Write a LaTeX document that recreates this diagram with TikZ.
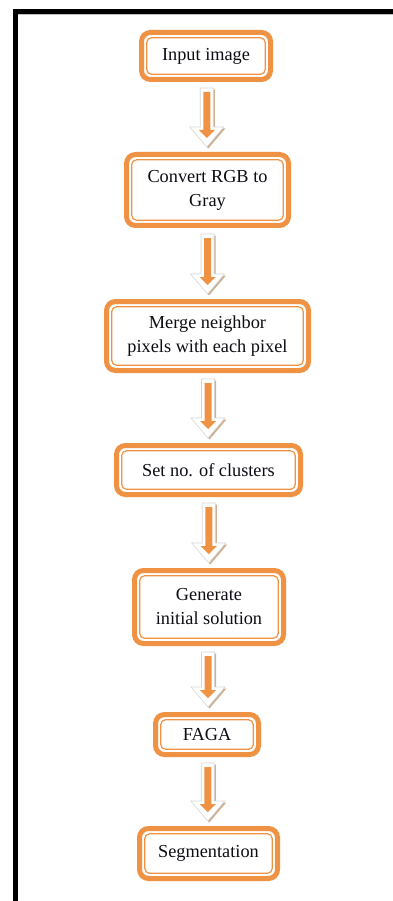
\documentclass[tikz,border=0pt]{standalone}
\usepackage{fontspec}
\setmainfont{Liberation Serif}
\usetikzlibrary{calc}
\definecolor{borange}{RGB}{240,146,68}
\definecolor{btext}{RGB}{12,12,20}
\definecolor{bshadow}{RGB}{205,175,145}
\definecolor{bedge}{RGB}{215,215,215}
\tikzset{
  flowbox/.style={draw=borange, line width=5pt, rounded corners=9pt, fill=white,
    align=center, text=btext, inner sep=0pt,
    font=\fontsize{18.3}{24}\selectfont,
    path picture={\draw[borange, line width=1.2pt, rounded corners=5pt]
      ([shift={(5.2pt,5.2pt)}]path picture bounding box.south west) rectangle
      ([shift={(-5.2pt,-5.2pt)}]path picture bounding box.north east);}},
  framebar/.style={fill=black},
}
\newcommand\flowarrow[2]{%
  \path let \p1=(#1.south), \p2=(#2.north), \p3=($(#1.south)!0.5!(#2.north)$) in
    [fill=bshadow] (\x3-5pt,\y1-7.5pt) -- (\x3+8pt,\y1-7.5pt) -- (\x3+8pt,\y2+23.5pt)
      -- (\x3+18.5pt,\y2+23.5pt) -- (\x3+1.5pt,\y2+3.5pt) -- (\x3-15.5pt,\y2+23.5pt)
      -- (\x3-5pt,\y2+23.5pt) -- cycle;
  \path let \p1=(#1.south), \p2=(#2.north), \p3=($(#1.south)!0.5!(#2.north)$) in
    [draw=bedge, line width=0.6pt, fill=white] (\x3-6.5pt,\y1-6pt) -- (\x3+6.5pt,\y1-6pt) -- (\x3+6.5pt,\y2+25pt)
      -- (\x3+17pt,\y2+25pt) -- (\x3,\y2+5pt) -- (\x3-17pt,\y2+25pt)
      -- (\x3-6.5pt,\y2+25pt) -- cycle;
  \fill[borange] let \p1=(#1.south), \p2=(#2.north), \p3=($(#1.south)!0.5!(#2.north)$) in
    (\x3-3.5pt,\y1-10pt) -- (\x3+3.5pt,\y1-10pt) -- (\x3+3.5pt,\y2+22pt)
      -- (\x3+8pt,\y2+22pt) -- (\x3,\y2+14pt) -- (\x3-8pt,\y2+22pt)
      -- (\x3-3.5pt,\y2+22pt) -- cycle;
}
\begin{document}
\begin{tikzpicture}[x=1pt,y=-1pt]
\useasboundingbox (0,0) rectangle (393,901);
\fill[white] (0,0) rectangle (393,901);
\fill[gray!50] (13,14) rectangle (393,15.2);
\fill[framebar] (13,9) rectangle (393,14);
\fill[framebar] (13,9) rectangle (18,901);
\node[flowbox, minimum width=129pt, minimum height=47pt] (n1) at (206,56) {Input image};
\node[flowbox, minimum width=162pt, minimum height=71pt] (n2) at (207.5,190) {Convert RGB to\\Gray};
\node[flowbox, minimum width=202pt, minimum height=69pt] (n3) at (207.5,336) {Merge neighbor\\pixels with each pixel};
\node[flowbox, minimum width=184pt, minimum height=49pt] (n4) at (208.5,470) {Set no. of clusters};
\node[flowbox, minimum width=149pt, minimum height=73pt] (n5) at (209,607) {Generate\\initial solution};
\node[flowbox, minimum width=103pt, minimum height=40pt] (n6) at (207,734.5) {FAGA};
\node[flowbox, minimum width=138pt, minimum height=50pt] (n7) at (208.5,853.5) {Segmentation};
\flowarrow{n1}{n2}
\flowarrow{n2}{n3}
\flowarrow{n3}{n4}
\flowarrow{n4}{n5}
\flowarrow{n5}{n6}
\flowarrow{n6}{n7}
\end{tikzpicture}
\end{document}
